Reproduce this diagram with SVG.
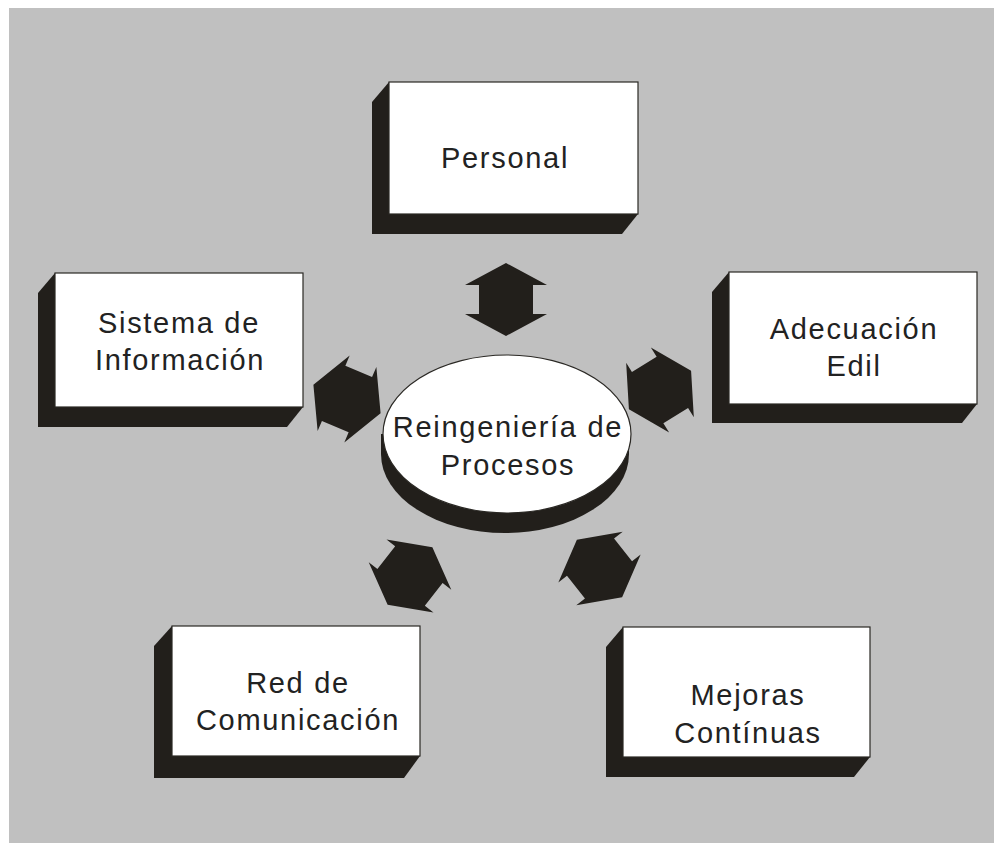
<svg xmlns="http://www.w3.org/2000/svg" width="994" height="843" viewBox="0 0 994 843">
<defs>
<style>
.bg{fill:#c0c0c0}
.face{fill:#ffffff;stroke:#2a2824;stroke-width:1.2}
.side{fill:#221f1b}
.arr{fill:#221f1b}
.t{font-family:"Liberation Sans",Arial,sans-serif;font-size:29px;letter-spacing:1.7px;fill:#222;text-anchor:middle}
</style>
<polygon id="dbl" points="0,-36.5 41,-14.5 30,-14.5 30,14.5 41,14.5 0,36.5 -41,14.5 -30,14.5 -30,-14.5 -41,-14.5"/>
</defs>
<rect x="0" y="0" width="994" height="843" fill="#ffffff"/>
<rect class="bg" x="9" y="8" width="985" height="835"/>

<g id="connectors">
<polygon class="arr" points="506,263 547,285 533,285 533,314 547,314 506,336 465,314 479,314 479,285 465,285"/>
<use href="#dbl" class="arr" transform="translate(347,399) rotate(-67)"/>
<use href="#dbl" class="arr" transform="translate(660,390) rotate(58.4)"/>
<use href="#dbl" class="arr" transform="translate(410,576) rotate(37.8)"/>
<use href="#dbl" class="arr" transform="translate(599.5,568.5) rotate(-38.3)"/>
</g>

<g id="center">
<ellipse class="side" cx="505" cy="454" rx="124" ry="79"/>
<rect class="side" x="381" y="434" width="248" height="20"/>
<ellipse class="face" cx="507" cy="434" rx="124" ry="79"/>
<text class="t" x="508" y="437">Reingeniería de</text>
<text class="t" x="508" y="475">Procesos</text>
</g>

<g id="personal">
<polygon class="side" points="389,82 372,102 372,234 622,234 638,214"/>
<rect class="face" x="389" y="82" width="249" height="132"/>
<text class="t" x="505" y="168">Personal</text>
</g>

<g id="sistema">
<polygon class="side" points="55,273 38,293 38,427 287,427 303,407"/>
<rect class="face" x="55" y="273" width="248" height="134"/>
<text class="t" x="179" y="333">Sistema de</text>
<text class="t" x="180" y="370">Información</text>
</g>

<g id="adecuacion">
<polygon class="side" points="729,272 712,292 712,423 962,423 977,404"/>
<rect class="face" x="729" y="272" width="248" height="132"/>
<text class="t" x="854" y="339">Adecuación</text>
<text class="t" x="854" y="376">Edil</text>
</g>

<g id="red">
<polygon class="side" points="172,626 154,646 154,778 404,778 420,756"/>
<rect class="face" x="172" y="626" width="248" height="130"/>
<text class="t" x="298" y="693">Red de</text>
<text class="t" x="298" y="730">Comunicación</text>
</g>

<g id="mejoras">
<polygon class="side" points="623,627 606,647 606,777 854,777 870,757"/>
<rect class="face" x="623" y="627" width="247" height="130"/>
<text class="t" x="748" y="705">Mejoras</text>
<text class="t" x="748" y="743">Contínuas</text>
</g>
</svg>
